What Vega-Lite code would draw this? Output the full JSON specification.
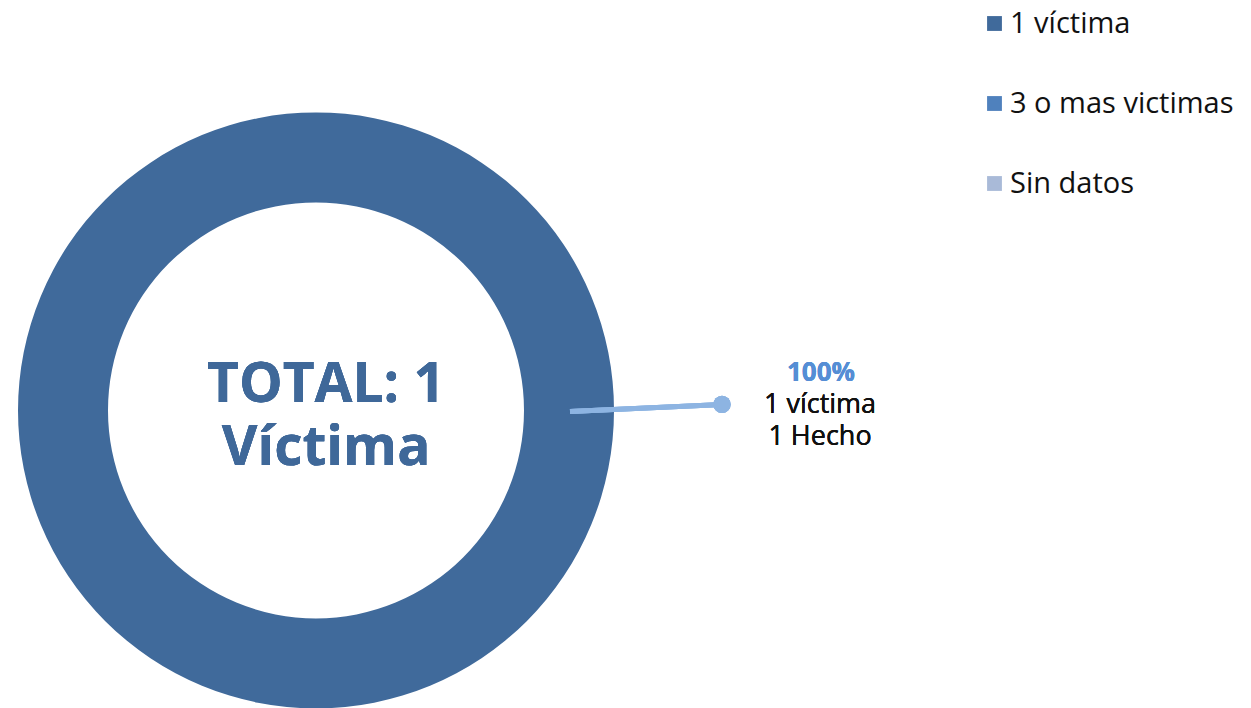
{
  "$schema": "https://vega.github.io/schema/vega-lite/v6.json",
  "autosize": {"type": "fit", "contains": "padding"},
  "width": 1251,
  "height": 708,
  "padding": 0,
  "background": "white",
  "config": {"view": {"stroke": null}, "font": "Open Sans"},
  "data": {
    "values": [
      {"categoria": "1 víctima", "valor": 1},
      {"categoria": "3 o mas victimas", "valor": 0},
      {"categoria": "Sin datos", "valor": 0}
    ]
  },
  "layer": [
    {
      "mark": {"type": "arc", "radius": 298, "radius2": 208, "stroke": null},
      "encoding": {
        "x": {"datum": 316, "type": "quantitative", "scale": {"domain": [0, 1251], "nice": false, "zero": false}, "axis": null},
        "y": {"datum": 411, "type": "quantitative", "scale": {"domain": [0, 708], "nice": false, "zero": false, "reverse": true}, "axis": null},
        "theta": {"field": "valor", "type": "quantitative", "stack": true},
        "color": {
          "field": "categoria",
          "type": "nominal",
          "sort": ["1 víctima", "3 o mas victimas", "Sin datos"],
          "scale": {"domain": ["1 víctima", "3 o mas victimas", "Sin datos"], "range": ["#406a9b", "#4f81bd", "#a9bad8"]},
          "legend": {
            "title": null,
            "orient": "none",
            "legendX": 980,
            "legendY": 9,
            "symbolType": "square",
            "symbolSize": 220,
            "symbolStrokeWidth": 0,
            "labelFontSize": 29,
            "labelFont": "Open Sans",
            "labelColor": "#111111",
            "labelOffset": 1,
            "rowPadding": 50,
            "labelLimit": 400
          }
        }
      }
    },
    {
      "mark": {"type": "rule", "color": "#8db4e2", "strokeWidth": 5},
      "encoding": {
        "x": {"datum": 570, "type": "quantitative"},
        "y": {"datum": 412, "type": "quantitative"},
        "x2": {"datum": 722},
        "y2": {"datum": 405}
      }
    },
    {
      "mark": {"type": "circle", "color": "#8db4e2", "opacity": 1, "size": 300},
      "encoding": {
        "x": {"datum": 722, "type": "quantitative"},
        "y": {"datum": 405, "type": "quantitative"}
      }
    },
    {
      "mark": {"type": "text", "text": "100%", "font": "Open Sans", "fontWeight": "bold", "fontSize": 26, "color": "#558ed5", "align": "center", "baseline": "middle"},
      "encoding": {
        "x": {"datum": 821, "type": "quantitative"},
        "y": {"datum": 374, "type": "quantitative"}
      }
    },
    {
      "mark": {"type": "text", "text": ["1 víctima", "1 Hecho"], "lineHeight": 32, "font": "Open Sans", "fontSize": 27, "color": "#111111", "align": "center", "baseline": "middle"},
      "encoding": {
        "x": {"datum": 820, "type": "quantitative"},
        "y": {"datum": 406, "type": "quantitative"}
      }
    },
    {
      "mark": {"type": "text", "text": ["TOTAL: 1", "Víctima"], "lineHeight": 63, "font": "Open Sans", "fontWeight": "bold", "fontSize": 55, "color": "#3f6899", "align": "center", "baseline": "middle"},
      "encoding": {
        "x": {"datum": 326, "type": "quantitative"},
        "y": {"datum": 386, "type": "quantitative"}
      }
    }
  ]
}
